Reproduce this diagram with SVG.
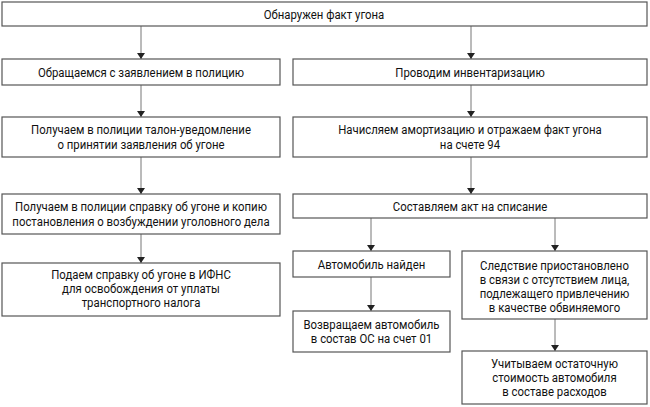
<svg xmlns="http://www.w3.org/2000/svg" width="650" height="407" viewBox="0 0 650 407">
<style>
.box{fill:#fff;stroke:#555;stroke-width:1.2}
.t{font-family:Roboto,"Liberation Sans",Arial,sans-serif;font-size:13px;fill:#111;text-anchor:middle}
.c{stroke:#777;stroke-width:1;fill:none;marker-end:url(#ah)}
</style>
<defs>
<marker id="ah" viewBox="0 0 6 8" refX="6" refY="4" markerWidth="6" markerHeight="8" markerUnits="userSpaceOnUse" orient="auto">
<path d="M0,0 L6,4 L0,8 Z" fill="#222"/>
</marker>
</defs>
<rect width="650" height="407" fill="#fff"/>
<g id="connectors">
<line class="c" x1="141" y1="26" x2="141" y2="59"/>
<line class="c" x1="471" y1="26" x2="471" y2="59"/>
<line class="c" x1="141" y1="85" x2="141" y2="117"/>
<line class="c" x1="471" y1="85" x2="471" y2="117"/>
<line class="c" x1="141" y1="157" x2="141" y2="194"/>
<line class="c" x1="471" y1="157" x2="471" y2="194"/>
<line class="c" x1="141" y1="234" x2="141" y2="263"/>
<line class="c" x1="371" y1="218" x2="371" y2="251"/>
<line class="c" x1="555" y1="218" x2="555" y2="251"/>
<line class="c" x1="371" y1="277" x2="371" y2="311"/>
<line class="c" x1="555" y1="319" x2="555" y2="351"/>
</g>
<g id="n1"><rect class="box" x="2" y="2" width="645" height="24"/><text class="t" transform="translate(324,18.5) scale(0.875,1)">Обнаружен факт угона</text></g>
<g id="n2"><rect class="box" x="2" y="59" width="278" height="26"/><text class="t" transform="translate(141,76.5) scale(0.875,1)">Обращаемся с заявлением в полицию</text></g>
<g id="n3"><rect class="box" x="293" y="59" width="354" height="26"/><text class="t" transform="translate(470,76.5) scale(0.875,1)">Проводим инвентаризацию</text></g>
<g id="n4"><rect class="box" x="2" y="117" width="278" height="40"/><text class="t" transform="translate(141,134) scale(0.875,1)">Получаем в полиции талон-уведомление</text><text class="t" transform="translate(141,149) scale(0.875,1)">о принятии заявления об угоне</text></g>
<g id="n5"><rect class="box" x="293" y="117" width="354" height="40"/><text class="t" transform="translate(470,134) scale(0.875,1)">Начисляем амортизацию и отражаем факт угона</text><text class="t" transform="translate(470,149) scale(0.875,1)">на счете 94</text></g>
<g id="n6"><rect class="box" x="2" y="194" width="278" height="40"/><text class="t" transform="translate(141,211) scale(0.875,1)">Получаем в полиции справку об угоне и копию</text><text class="t" transform="translate(141,226) scale(0.875,1)">постановления о возбуждении уголовного дела</text></g>
<g id="n7"><rect class="box" x="293" y="194" width="354" height="24"/><text class="t" transform="translate(470,210.5) scale(0.875,1)">Составляем акт на списание</text></g>
<g id="n8"><rect class="box" x="2" y="263" width="278" height="53"/><text class="t" transform="translate(141,279) scale(0.875,1)">Подаем справку об угоне в ИФНС</text><text class="t" transform="translate(141,293) scale(0.875,1)">для освобождения от уплаты</text><text class="t" transform="translate(141,307) scale(0.875,1)">транспортного налога</text></g>
<g id="n9"><rect class="box" x="293" y="251" width="157" height="26"/><text class="t" transform="translate(371.5,268.5) scale(0.875,1)">Автомобиль найден</text></g>
<g id="n10"><rect class="box" x="462" y="251" width="185" height="68"/><text class="t" transform="translate(554.5,270) scale(0.875,1)">Следствие приостановлено</text><text class="t" transform="translate(554.5,284) scale(0.875,1)">в связи с отсутствием лица,</text><text class="t" transform="translate(554.5,298) scale(0.875,1)">подлежащего привлечению</text><text class="t" transform="translate(554.5,312) scale(0.875,1)">в качестве обвиняемого</text></g>
<g id="n11"><rect class="box" x="293" y="311" width="157" height="41"/><text class="t" transform="translate(371.5,329) scale(0.875,1)">Возвращаем автомобиль</text><text class="t" transform="translate(371.5,343) scale(0.875,1)">в состав ОС на счет 01</text></g>
<g id="n12"><rect class="box" x="462" y="351" width="185" height="53"/><text class="t" transform="translate(554.5,368) scale(0.875,1)">Учитываем остаточную</text><text class="t" transform="translate(554.5,382) scale(0.875,1)">стоимость автомобиля</text><text class="t" transform="translate(554.5,396) scale(0.875,1)">в составе расходов</text></g>
</svg>
